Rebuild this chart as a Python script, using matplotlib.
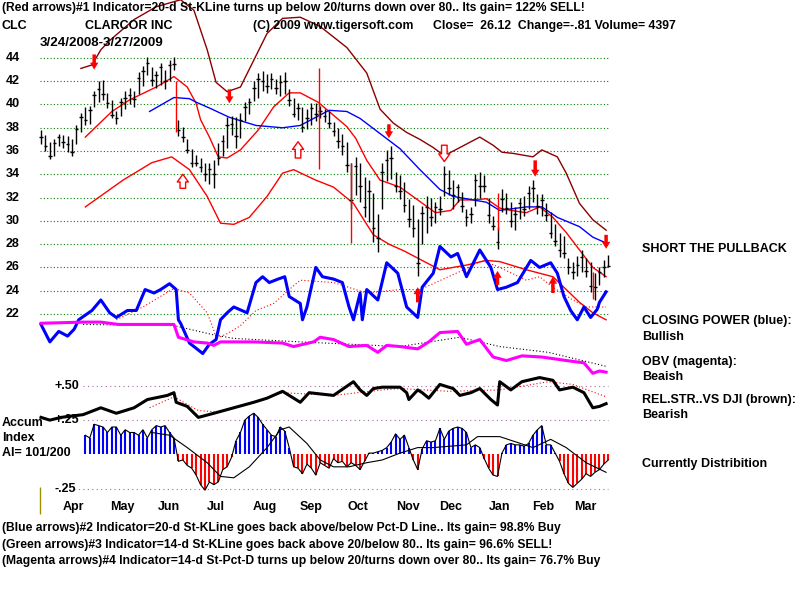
import numpy as np
import matplotlib
matplotlib.use("Agg")
import matplotlib.pyplot as plt

# price bars, one every second trading day from 3/24/2008 (day 0) to 3/27/2009 (day 256)
bar_day = np.arange(0, 257, 2)
bar_low = [36.6, 36.0, 35.3, 35.6, 36.4, 36.3, 35.9, 35.6, 36.6, 37.6,
           38.2, 38.3, 39.8, 40.2, 40.4, 39.7, 38.8, 38.3, 39.0, 39.6,
           40.0, 39.8, 40.9, 41.6, 42.5, 41.6, 41.4, 41.7, 41.3, 42.0,
           43.0, 37.3, 36.8, 35.8, 34.6, 34.7, 34.2, 33.4, 33.2, 32.8,
           34.8, 35.6, 36.3, 37.4, 36.3, 37.1, 38.6, 39.2, 40.3, 40.6,
           41.2, 41.0, 41.3, 40.9, 40.7, 40.9, 39.9, 38.9, 38.7, 37.6,
           37.9, 38.2, 38.6, 38.8, 38.5, 38.0, 37.3, 36.3, 35.7, 34.2,
           31.0, 32.2, 31.6, 30.3, 29.9, 28.2, 27.3, 31.0, 33.4, 33.6,
           32.5, 31.9, 30.8, 29.5, 28.6, 25.3, 28.0, 29.0, 29.6, 29.8,
           30.5, 32.1, 32.2, 31.0, 31.6, 30.8, 29.6, 29.8, 31.3, 32.0,
           32.5, 29.8, 29.2, 27.6, 30.8, 30.6, 29.5, 29.2, 30.2, 30.4,
           31.0, 31.6, 30.6, 30.4, 30.0, 28.5, 27.8, 26.9, 26.8, 25.4,
           25.0, 25.3, 25.6, 25.2, 23.9, 23.2, 24.5, 25.2, 26.0]
bar_high = [37.8, 37.4, 36.8, 37.0, 37.5, 37.4, 37.3, 37.0, 38.2, 39.3,
            39.8, 39.9, 41.2, 42.0, 42.1, 41.0, 40.4, 39.4, 40.6, 41.2,
            41.4, 41.2, 42.8, 43.3, 44.1, 43.2, 42.9, 43.6, 43.0, 43.8,
            44.1, 38.7, 38.1, 37.0, 36.2, 35.7, 35.4, 35.0, 35.0, 35.2,
            36.7, 37.4, 38.9, 39.0, 38.9, 39.3, 40.2, 40.6, 42.0, 42.7,
            42.9, 42.6, 42.7, 42.2, 42.5, 42.8, 41.3, 40.6, 40.1, 39.8,
            39.6, 40.1, 40.1, 39.9, 39.6, 39.4, 38.5, 38.0, 37.5, 36.8,
            35.0, 35.5, 35.0, 33.8, 33.5, 32.4, 30.6, 35.0, 36.1, 36.4,
            34.2, 33.9, 33.3, 31.9, 31.4, 30.2, 31.3, 32.1, 32.0, 31.6,
            32.1, 34.7, 34.4, 33.5, 33.2, 32.5, 31.0, 31.2, 34.0, 34.2,
            33.9, 32.0, 30.4, 29.5, 32.7, 32.4, 31.6, 31.2, 32.0, 32.1,
            33.0, 33.5, 32.3, 32.3, 31.5, 30.8, 29.7, 29.0, 28.7, 26.8,
            26.5, 27.0, 27.5, 26.8, 26.5, 25.5, 26.0, 26.6, 27.1]
bar_close = [37.2, 36.4, 35.6, 36.7, 37.2, 36.8, 36.6, 35.9, 37.9, 38.9,
             38.7, 39.5, 40.8, 41.3, 40.9, 40.1, 39.1, 38.8, 40.2, 40.6,
             40.8, 40.5, 42.3, 42.9, 43.6, 42.1, 42.5, 43.2, 42.0, 43.4,
             43.5, 37.8, 37.2, 36.1, 35.0, 35.0, 34.6, 34.0, 34.5, 34.0,
             35.4, 36.9, 38.2, 38.3, 37.3, 38.7, 39.8, 40.2, 41.4, 42.2,
             42.0, 41.6, 42.2, 41.4, 41.9, 42.0, 40.4, 39.2, 39.7, 38.1,
             38.8, 39.7, 39.2, 39.4, 39.0, 38.4, 37.7, 36.9, 36.4, 34.8,
             31.8, 34.7, 33.0, 31.2, 32.6, 29.4, 28.5, 34.2, 35.2, 35.4,
             33.0, 32.6, 31.4, 30.2, 29.4, 26.4, 30.7, 31.2, 30.3, 31.2,
             31.0, 34.0, 32.8, 32.2, 32.9, 31.3, 30.3, 30.6, 33.5, 33.0,
             33.0, 30.5, 29.6, 28.2, 31.9, 31.1, 30.0, 30.6, 31.5, 31.0,
             32.4, 32.8, 31.3, 31.8, 30.5, 29.0, 28.3, 27.5, 27.2, 26.0,
             25.6, 26.2, 26.9, 25.7, 24.4, 24.3, 25.6, 26.0, 26.12]

# accumulation index (same days as the bars), NaN before it starts
accum = [np.nan] * 10 + [
    0.14, 0.12, 0.22, 0.21, 0.20, 0.16, 0.20, 0.20, 0.14, 0.18,
    0.16, 0.16, 0.14, 0.18, 0.12, 0.18, 0.21, 0.20, 0.21, 0.16,
    0.12, -0.05, -0.04, -0.08, -0.10, -0.15, -0.22, -0.26, -0.20, -0.22,
    -0.20, -0.11, -0.09, -0.02, 0.10, 0.16, 0.25, 0.28, 0.30, 0.27,
    0.22, 0.18, 0.14, 0.13, 0.20, 0.17, 0.05, -0.09, -0.10, -0.14,
    -0.07, -0.10, -0.15, -0.06, -0.08, -0.10, -0.03, -0.06, -0.05, -0.09,
    -0.06, -0.08, -0.11, -0.05, 0.01, 0.01, 0.02, 0.03, 0.05, 0.09,
    0.15, 0.11, 0.14, 0.05, -0.04, -0.11, 0.04, 0.10, 0.09, 0.10,
    0.19, 0.11, 0.17, 0.19, 0.20, 0.19, 0.16, 0.05, 0.07, 0.05,
    -0.03, -0.10, -0.15, -0.16, 0.01, 0.07, 0.08, 0.07, 0.07, 0.06,
    0.08, 0.14, 0.18, 0.21, 0.07, 0.07, 0.01, -0.05, -0.14, -0.21,
    -0.24, -0.21, -0.18, -0.14, -0.16, -0.13, -0.11, -0.07, -0.04]
accum_ma_day = [50, 58, 66, 75, 81, 87, 94, 102, 108, 112, 120, 126, 132, 139, 147,
                154, 162, 170, 177, 192, 197, 207, 222, 230, 237, 246, 255]
accum_ma = [0.16, 0.14, 0.05, -0.06, -0.16, -0.17, -0.09, 0.05, 0.18, 0.20, 0.08, -0.04,
            -0.09, -0.09, -0.06, -0.04, 0.01, 0.05, 0.05, 0.07, 0.13, 0.13, 0.05, 0.11,
            0.05, -0.06, -0.13]

# bands and moving average (price units)
env_hi_day = [20, 32, 40, 52, 60, 66, 70, 72, 76, 80, 84, 90, 98, 105, 112, 117, 125,
              130, 138, 142, 147, 153, 159, 162, 170, 178, 185, 189, 195, 201, 207,
              212, 219, 225, 231, 237, 243, 249, 255]
env_hi = [37.2, 39.4, 40.4, 41.5, 42.4, 41.5, 40.1, 38.7, 37.2, 35.5, 35.4, 36.1, 37.8,
          39.8, 41.0, 41.0, 40.2, 39.4, 38.1, 37.1, 35.2, 33.5, 33.1, 32.9, 31.8, 30.7,
          30.9, 31.8, 31.8, 31.9, 31.1, 30.9, 30.7, 31.2, 30.3, 29.0, 27.5, 26.0, 25.2]
env_lo_day = [20, 37, 50, 59, 67, 75, 81, 87, 94, 102, 109, 114, 124, 132, 141, 150,
              157, 164, 172, 180, 192, 201, 207, 219, 231, 237, 243, 249, 255]
env_lo = [31.2, 33.5, 35.0, 35.5, 34.4, 32.1, 29.8, 29.7, 30.3, 32.1, 34.1, 34.4, 33.5,
          32.9, 31.5, 28.8, 28.0, 27.4, 26.6, 25.8, 26.2, 26.6, 26.5, 25.8, 25.2, 24.1,
          23.0, 22.1, 21.5]
band_day = [18, 23, 27, 31, 42, 52, 63, 69, 75, 79, 84, 90, 96, 102, 109, 117, 126, 138,
            147, 153, 159, 165, 171, 177, 182, 186, 192, 198, 204, 208, 213, 222, 226,
            233, 237, 243, 249, 255]
band_hi = [43.1, 43.4, 44.7, 45.5, 47.3, 48.4, 49.0, 48.1, 44.7, 41.9, 41.1, 41.5, 43.8,
           46.1, 47.4, 47.5, 46.7, 44.9, 42.7, 39.6, 38.4, 37.6, 37.0, 36.3, 35.6, 36.0,
           36.6, 37.2, 36.5, 35.9, 35.8, 35.5, 36.1, 35.5, 34.1, 31.5, 30.1, 29.2]
ma_day = [49, 60, 67, 70, 76, 85, 97, 109, 117, 124, 130, 138, 144, 153, 162, 171, 180,
          186, 195, 201, 207, 219, 226, 233, 243, 249, 255]
ma50 = [39.4, 40.6, 40.5, 40.2, 39.7, 38.9, 38.2, 38.0, 38.2, 38.9, 39.5, 39.4, 38.8,
        37.5, 36.2, 34.4, 32.7, 32.1, 31.8, 31.6, 30.9, 31.2, 31.2, 30.3, 29.5, 28.6, 28.1]

# closing power (blue) and its red dotted average, drawn on the price scale
cp_day = [0, 4, 8, 12, 15, 17, 23, 27, 31, 34, 39, 43, 47, 51, 54, 58, 61, 62, 63, 67,
          73, 76, 79, 81, 84, 87, 93, 97, 100, 103, 107, 110, 112, 117, 118, 120, 124,
          127, 132, 136, 139, 141, 144, 145, 147, 152, 156, 161, 165, 170, 172, 177,
          180, 185, 188, 192, 198, 203, 206, 210, 215, 221, 225, 230, 233, 236, 239,
          242, 245, 248, 251, 252, 255]
cp = [21.1, 19.6, 20.5, 20.1, 20.7, 21.5, 22.3, 23.2, 22.1, 21.7, 22.3, 22.3, 24.1, 23.8,
      24.1, 24.6, 24.1, 21.5, 21.2, 19.5, 18.6, 19.4, 19.8, 21.5, 22.1, 22.6, 22.1, 24.7,
      25.2, 24.7, 25.0, 25.2, 23.5, 22.9, 21.5, 22.6, 26.0, 25.2, 25.0, 24.7, 22.6, 21.5,
      23.8, 21.5, 24.1, 23.2, 26.4, 25.5, 22.6, 21.7, 24.3, 25.5, 27.8, 26.9, 27.2, 25.2,
      27.5, 26.0, 24.1, 24.3, 24.7, 26.6, 26.0, 26.4, 25.5, 23.5, 22.3, 21.5, 22.6, 21.7,
      22.4, 23.0, 23.9]
cp_ma_day = [34, 46, 60, 67, 75, 78, 79, 84, 90, 97, 105, 112, 117, 132, 147, 162, 171,
             177, 185, 192, 199, 207, 219, 225, 231, 240, 246, 255]
cp_ma = [21.5, 22.6, 24.2, 23.8, 22.1, 20.6, 19.9, 20.3, 21.0, 22.3, 22.9, 24.1, 24.9,
         24.7, 23.8, 24.1, 24.1, 24.6, 25.3, 25.9, 26.6, 26.0, 24.9, 25.2, 24.3, 23.2,
         22.6, 22.6]

# OBV (magenta) and its black dotted average, price scale
obv_day = [0, 19, 27, 35, 49, 60, 62, 69, 75, 78, 81, 87, 96, 109, 114, 123, 126, 132,
           139, 147, 152, 156, 162, 170, 175, 180, 188, 192, 198, 204, 210, 217, 226,
           237, 245, 249, 252, 255]
obv = [21.2, 21.3, 21.3, 21.1, 21.1, 21.1, 20.0, 19.6, 19.5, 19.3, 19.6, 19.6, 19.6, 19.5,
       19.2, 19.6, 20.0, 19.8, 19.2, 19.3, 18.7, 19.3, 19.2, 19.0, 19.6, 20.4, 20.5, 19.4,
       19.8, 18.3, 18.0, 18.4, 18.3, 18.0, 17.8, 16.9, 17.1, 17.0]
obv_ma_day = [19, 60, 78, 87, 117, 162, 189, 207, 229, 255]
obv_ma = [21.1, 21.0, 20.2, 19.9, 19.6, 19.2, 20.0, 19.2, 18.7, 17.5]

# relative strength vs DJI (black) and red dotted average, accum-index scale
rs_day = [0, 4, 9, 19, 27, 34, 42, 48, 57, 60, 61, 66, 71, 78, 87, 96, 102, 109, 113,
          117, 121, 132, 141, 144, 147, 150, 154, 162, 165, 166, 170, 172, 175, 180, 186,
          189, 194, 198, 203, 206, 207, 212, 217, 225, 231, 234, 240, 245, 249, 252, 255]
rs = [0.27, 0.25, 0.27, 0.29, 0.34, 0.30, 0.34, 0.40, 0.43, 0.45, 0.38, 0.35, 0.27, 0.30,
      0.34, 0.38, 0.41, 0.46, 0.42, 0.38, 0.45, 0.43, 0.53, 0.47, 0.43, 0.48, 0.49, 0.49,
      0.45, 0.40, 0.47, 0.45, 0.41, 0.51, 0.48, 0.43, 0.45, 0.48, 0.40, 0.36, 0.53, 0.47,
      0.53, 0.56, 0.54, 0.47, 0.49, 0.45, 0.34, 0.35, 0.37]
rs_ma_day = [49, 60, 71, 79, 96, 109, 132, 154, 162, 184, 207, 229, 240, 255]
rs_ma = [0.34, 0.42, 0.32, 0.31, 0.38, 0.45, 0.43, 0.47, 0.48, 0.46, 0.47, 0.53, 0.51, 0.42]

# signal arrows: (day, tail, tip)
arrows_down = [(24, 44.3, 43.0), (85, 41.3, 40.1), (157, 38.3, 37.1), (223, 35.2, 33.8),
               (255, 28.8, 27.6)]
arrows_down_open = [(182, 36.5, 35.1)]
arrows_up = [(170, 23.0, 24.3), (206, 24.5, 25.7), (231, 23.8, 25.2)]
arrows_up_open = [(64, 32.8, 34.0), (116, 35.4, 36.8)]
spike_day = [61, 125.5, 140, 206, 249]
spike_lo = [37.6, 34.5, 28.1, 29.2, 23.3]
spike_hi = [42.0, 43.1, 35.0, 32.4, 25.6]

price_levels = [44, 42, 40, 38, 36, 34, 32, 30, 28, 26, 24, 22]
ai_levels = [0.5, 0.25, -0.25]
ai_labels = ["+.50", "+.25", "-.25"]
months = ["Apr", "May", "Jun", "Jul", "Aug", "Sep", "Oct", "Nov", "Dec", "Jan", "Feb", "Mar"]
month_start = [6, 28, 49, 70, 92, 113, 134, 157, 176, 198, 218, 237]

FONT = ["Liberation Sans", "DejaVu Sans"]
W, H = 800, 600


def ftext(x, y, s, **kw):
    kw.setdefault("fontweight", "bold")
    kw.setdefault("fontsize", 9)
    kw.setdefault("va", "center")
    kw.setdefault("family", FONT)
    return fig.text(x / W, 1 - y / H, s, **kw)


fig = plt.figure(figsize=(8, 6), dpi=100)
fig.patch.set_facecolor("white")

ax = fig.add_axes([0, 0, 1, 1])
ax.set_xlim(-18.5, 342.5)
ax.set_ylim(-2.58, 48.98)
ax.axis("off")

ax2 = fig.add_axes([0, 0, 1, 1], sharex=ax)
ax2.set_ylim(-1.060, 3.310)
ax2.axis("off")
ax2.patch.set_alpha(0)

# grid
ax.hlines(price_levels, -0.5, 256, colors="#008000", linestyles=(0, (1, 2)), lw=0.8)
ax2.hlines(ai_levels, [19, 19, 15], 256, colors="#a070a0", linestyles=(0, (1, 3)), lw=0.8)

# bands
ax.plot(band_day, band_hi, color="#8b0000", lw=1)
ax.plot(env_hi_day, env_hi, color="red", lw=1)
ax.plot(env_lo_day, env_lo, color="red", lw=1)
ax.plot(ma_day, ma50, color="blue", lw=1)

# price bars
ax.vlines(bar_day, bar_low, bar_high, colors="black", lw=1)
ax.hlines(bar_close, bar_day - 0.8, bar_day + 0.8, colors="black", lw=1)
ax.vlines(spike_day, spike_lo, spike_hi, colors="red", lw=1)

# closing power / OBV
ax.plot(cp_ma_day, cp_ma, color="red", lw=0.8, ls=(0, (1, 2)))
ax.plot(cp_day, cp, color="blue", lw=2.2)
ax.plot(obv_ma_day, obv_ma, color="black", lw=0.8, ls=(0, (1, 2)))
ax.plot(obv_day, obv, color="magenta", lw=2.2)

# rel strength
ax2.plot(rs_ma_day, rs_ma, color="red", lw=0.8, ls=(0, (1, 2)))
ax2.plot(rs_day, rs, color="black", lw=2.2)

# accumulation index
acc = np.array(accum)
pos = np.where(acc > 0, acc, 0)
neg = np.where(acc < 0, acc, 0)
ax2.vlines(bar_day, 0, pos, colors="blue", lw=1.5)
ax2.vlines(bar_day, neg, 0, colors="red", lw=1.5)
ax2.plot(bar_day, acc, color="black", lw=0.8)
ax2.plot(accum_ma_day, accum_ma, color="black", lw=0.8)

# arrows
solid = "simple,head_width=0.6,head_length=0.5,tail_width=0.25"
hollow = "simple,head_width=0.8,head_length=0.55,tail_width=0.4"
for d, t, p in arrows_down + arrows_up:
    ax.annotate("", xy=(d, p), xytext=(d, t),
                arrowprops=dict(arrowstyle=solid, color="red", lw=0,
                                shrinkA=0, shrinkB=0))
for d, t, p in arrows_down_open + arrows_up_open:
    ax.annotate("", xy=(d, p), xytext=(d, t),
                arrowprops=dict(arrowstyle=hollow, fc="white", ec="red", lw=1,
                                shrinkA=0, shrinkB=0))

# scale labels
for lv in price_levels:
    ax.text(-16, lv, str(lv), fontsize=9, fontweight="bold", family=FONT, va="center")
for lv, lb in zip(ai_levels, ai_labels):
    ax2.text(6, lv, lb, fontsize=9, fontweight="bold", family=FONT, va="center")
for m, d in zip(months, month_start):
    ax2.text(d + 8.8, -0.38, m, ha="center", fontsize=9, fontweight="bold",
             family=FONT, va="center")
ax2.vlines(-0.5, -0.43, -0.24, colors="#a09000", lw=1)

ftext(2, 8, "(Red arrows)#1 Indicator=20-d St-KLine turns up below 20/turns down over 80.. Its gain= 122% SELL!",
      fontsize=8.7)
ftext(2, 26, "CLC")
ftext(85, 26, "CLARCOR INC")
ftext(253, 26, "(C) 2009 www.tigersoft.com", fontsize=8.8)
ftext(433, 26, "Close=  26.12  Change=-.81 Volume= 4397", fontsize=8.8)
ftext(40, 43, "3/24/2008-3/27/2009", fontsize=9.6)

ftext(642, 249, "SHORT THE PULLBACK")
ftext(642, 321, "CLOSING POWER (blue):")
ftext(642, 337, "Bullish")
ftext(642, 362, "OBV (magenta):")
ftext(642, 377, "Beaish")
ftext(642, 400, "REL.STR..VS DJI (brown):")
ftext(642, 415, "Bearish")
ftext(642, 464, "Currently Distribition")

ftext(2, 423, "Accum")
ftext(2, 438, "Index")
ftext(2, 453, "AI= 101/200")

ftext(2, 528, "(Blue arrows)#2 Indicator=20-d St-KLine goes back above/below Pct-D Line.. Its gain= 98.8% Buy",
      fontsize=8.7)
ftext(2, 545, "(Green arrows)#3 Indicator=14-d St-KLine goes back above 20/below 80.. Its gain= 96.6% SELL!",
      fontsize=8.7)
ftext(2, 561, "(Magenta arrows)#4 Indicator=14-d St-Pct-D turns up below 20/turns down over 80.. Its gain= 76.7% Buy",
      fontsize=8.7)

fig.savefig("out.png", dpi=100)
